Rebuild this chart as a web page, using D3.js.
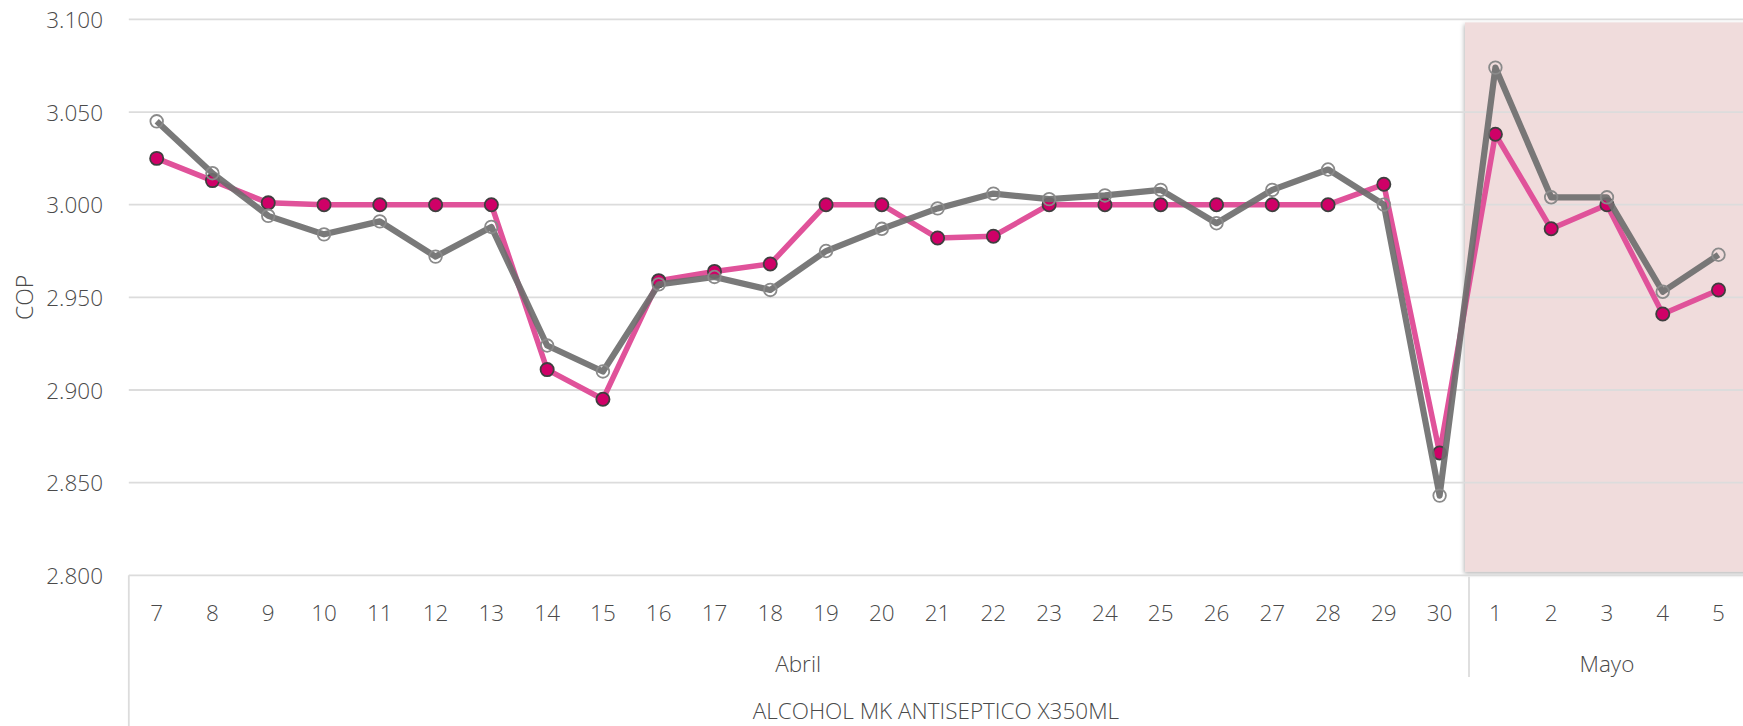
<!DOCTYPE html>
<html>
<head>
<meta charset="utf-8">
<script src="https://cdn.jsdelivr.net/npm/d3@7"></script>
<style>
  html, body { margin: 0; padding: 0; background: #fff; }
  svg { display: block; }
  text { font-family: "Segoe UI", "Open Sans", sans-serif; font-weight: 300; fill: #4a4a4a; }
</style>
</head>
<body>
<svg id="chart" width="1743" height="726"></svg>
<script>
// ---- data ----
const days = ["7","8","9","10","11","12","13","14","15","16","17","18","19","20","21","22","23","24","25","26","27","28","29","30","1","2","3","4","5"];
const months = ["Abril","Abril","Abril","Abril","Abril","Abril","Abril","Abril","Abril","Abril","Abril","Abril","Abril","Abril","Abril","Abril","Abril","Abril","Abril","Abril","Abril","Abril","Abril","Abril","Mayo","Mayo","Mayo","Mayo","Mayo"];
const monthNames = ["Abril","Mayo"];
const productLabel = "ALCOHOL MK ANTISEPTICO X350ML";
const yLabel = "COP";
const pinkSeries = [3025,3013,3001,3000,3000,3000,3000,2911,2895,2959,2964,2968,3000,3000,2982,2983,3000,3000,3000,3000,3000,3000,3011,2866,3038,2987,3000,2941,2954];
const graySeries = [3045,3017,2994,2984,2991,2972,2988,2924,2910,2957,2961,2954,2975,2987,2998,3006,3003,3005,3008,2990,3008,3019,3000,2843,3074,3004,3004,2953,2973];
const yTicks = [2800,2850,2900,2950,3000,3050,3100];
const highlightMonth = "Mayo";

// ---- layout ----
const W = 1743, H = 726;
const pLeft = 128.8, pRight = 1746.4, pTop = 19.4, pBottom = 575.3;
const svg = d3.select("#chart");
const idx = d3.range(days.length);

const x = d3.scaleBand().domain(idx).range([pLeft, pRight]).padding(0);
const y = d3.scaleLinear().domain([2800, 3100]).range([pBottom, pTop]);
const loc = d3.formatLocale({decimal: ",", thousands: ".", grouping: [3], currency: ["$", ""]});
const fmt = loc.format(",");
const cx = i => x(i) + x.bandwidth() / 2;

// drop shadow filter
const defs = svg.append("defs");
const f = defs.append("filter").attr("id", "shadow").attr("x", "-5%").attr("y", "-5%").attr("width", "110%").attr("height", "110%");
f.append("feDropShadow").attr("dx", -1).attr("dy", 2).attr("stdDeviation", 2)
  .attr("flood-color", "#000").attr("flood-opacity", 0.28);

// highlighted region (Mayo)
const firstMayo = months.indexOf(highlightMonth);
svg.append("rect")
  .attr("x", x(firstMayo) - 2.5)
  .attr("y", y(3100) + 3)
  .attr("width", W - (x(firstMayo) - 2.5) + 10)
  .attr("height", (y(2800) - 3.6) - (y(3100) + 3))
  .attr("fill", "#f0dcdc")
  .attr("filter", "url(#shadow)");

// gridlines
svg.append("g").selectAll("line").data(yTicks).join("line")
  .attr("x1", pLeft).attr("x2", W)
  .attr("y1", d => y(d)).attr("y2", d => y(d))
  .attr("stroke", "#dcdcdc").attr("stroke-width", 1.8);

// y tick labels
svg.append("g").selectAll("text").data(yTicks).join("text")
  .attr("x", 103).attr("y", d => y(d))
  .attr("text-anchor", "end").attr("dominant-baseline", "central")
  .attr("font-size", 22.5)
  .text(d => fmt(d));

// y label
svg.append("text")
  .attr("transform", `translate(24,${(pTop + pBottom) / 2}) rotate(-90)`)
  .attr("text-anchor", "middle").attr("dominant-baseline", "central")
  .attr("font-size", 23).text(yLabel);

// x axis structure lines
svg.append("line").attr("x1", pLeft).attr("x2", pLeft).attr("y1", pBottom).attr("y2", H)
  .attr("stroke", "#dcdcdc").attr("stroke-width", 1.8);
svg.append("line").attr("x1", x(firstMayo) + 1.5).attr("x2", x(firstMayo) + 1.5).attr("y1", pBottom + 1.5).attr("y2", 677)
  .attr("stroke", "#dcdcdc").attr("stroke-width", 1.8);

// day labels
svg.append("g").selectAll("text").data(idx).join("text")
  .attr("x", i => cx(i)).attr("y", 612)
  .attr("text-anchor", "middle").attr("dominant-baseline", "central")
  .attr("font-size", 22.5).text(i => days[i]);

// month labels
monthNames.forEach(m => {
  const ii = idx.filter(i => months[i] === m);
  const x0 = x(ii[0]), x1 = x(ii[ii.length - 1]) + x.bandwidth();
  svg.append("text").attr("x", (x0 + x1) / 2).attr("y", 663)
    .attr("text-anchor", "middle").attr("dominant-baseline", "central")
    .attr("font-size", 22.5).text(m);
});

// product label
svg.append("text").attr("x", (pLeft + W) / 2).attr("y", 710)
  .attr("text-anchor", "middle").attr("dominant-baseline", "central")
  .attr("font-size", 22.5).text(productLabel);

// lines
const line = d3.line().x((d, i) => cx(i)).y(d => y(d));

svg.append("path").datum(pinkSeries).attr("d", line)
  .attr("fill", "none").attr("stroke", "#e0529a").attr("stroke-width", 5.5)
  .attr("stroke-linejoin", "round");
svg.append("g").selectAll("circle").data(pinkSeries).join("circle")
  .attr("cx", (d, i) => cx(i)).attr("cy", d => y(d)).attr("r", 6.6)
  .attr("fill", "#cf0067").attr("stroke", "#3f3f3f").attr("stroke-width", 1.8);

svg.append("path").datum(graySeries).attr("d", line)
  .attr("fill", "none").attr("stroke", "#6e6e6e").attr("stroke-opacity", 0.92).attr("stroke-width", 6.2)
  .attr("stroke-linejoin", "round");
svg.append("g").selectAll("circle").data(graySeries).join("circle")
  .attr("cx", (d, i) => cx(i)).attr("cy", d => y(d)).attr("r", 6.3)
  .attr("fill", "none").attr("stroke", "#8a8a8a").attr("stroke-width", 1.8);
</script>
</body>
</html>
